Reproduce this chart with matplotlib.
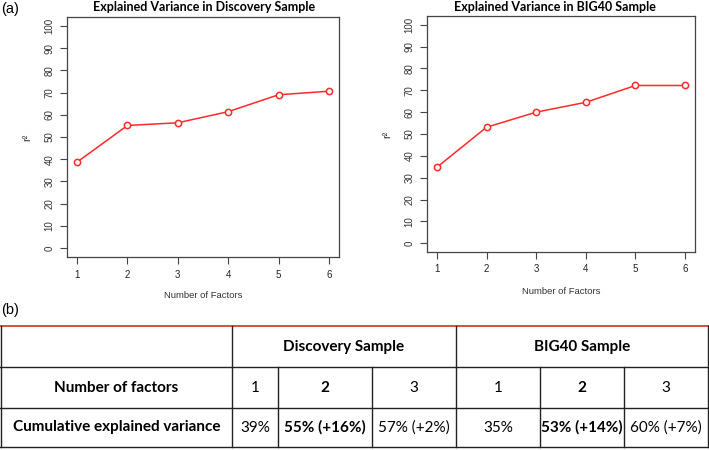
import matplotlib
matplotlib.use("Agg")
import matplotlib.pyplot as plt

# ---- data ----
factors = [1, 2, 3, 4, 5, 6]
discovery_r2 = [38.7, 55.2, 56.4, 61.4, 69.0, 70.6]
big40_r2 = [34.8, 53.1, 60.0, 64.5, 72.2, 72.2]
y_ticks = [0, 10, 20, 30, 40, 50, 60, 70, 80, 90, 100]

table_groups = ["Discovery Sample", "BIG40 Sample"]
table_n_factors = ["1", "2", "3", "1", "2", "3"]
table_cum_var = ["39%", "55% (+16%)", "57% (+2%)", "35%", "53% (+14%)", "60% (+7%)"]
table_bold_cols = [1, 4]

W, H = 709, 450
fig = plt.figure(figsize=(W / 100, H / 100), dpi=100)

RED = "#ff2a2a"
FRAME = "#444444"
AXFONT = "Liberation Sans"
TFONT = "Lato"


def make_panel(rect, y, title, title_x):
    l, t, r, b = rect
    ax = fig.add_axes([l / W, 1 - b / H, (r - l) / W, (b - t) / H])
    ax.plot(factors, y, color=RED, lw=1.1, zorder=2)
    ax.plot(factors, y, ls="none", marker="o", ms=4.5, mfc="white",
            mec=RED, mew=1.1, zorder=3)
    ax.set_xlim(0.8, 6.2)
    ax.set_ylim(-4, 104)
    ax.set_xticks(factors)
    ax.set_yticks(y_ticks)
    ax.set_xticklabels([str(f) for f in factors], fontfamily=AXFONT,
                       fontsize=7, color="#222222")
    ax.set_yticklabels([str(v) for v in y_ticks], fontfamily=AXFONT,
                       fontsize=7, color="#333333", rotation=90, va="center")
    ax.tick_params(direction="out", length=5, width=0.8, color=FRAME, pad=4)
    for s in ax.spines.values():
        s.set_color(FRAME)
        s.set_linewidth(0.9)
    ax.set_xlabel("Number of Factors", fontfamily=AXFONT, fontsize=6.8,
                  color="#333333", va="center")
    ax.xaxis.set_label_coords(0.5, -39 / (b - t))
    ax.set_ylabel("r²", fontfamily=AXFONT, fontsize=8, color="#333333",
                  rotation=90, va="center")
    ax.yaxis.set_label_coords(-40 / (r - l), 0.5)
    fig.text(title_x / W, 1 - 7 / H, title, ha="center", va="center",
             fontfamily=TFONT, fontweight="bold", fontsize=9)
    return ax


make_panel((67, 17, 339, 257), discovery_r2,
           "Explained Variance in Discovery Sample", 204)
make_panel((427, 16, 695, 252), big40_r2,
           "Explained Variance in BIG40 Sample", 555)

fig.text(1 / W, 1 - 9 / H, "(a)", ha="left", va="center",
         fontfamily=AXFONT, fontsize=10.5)
fig.text(1 / W, 1 - 310 / H, "(b)", ha="left", va="center",
         fontfamily=AXFONT, fontsize=10.5)

# ---- table ----
tab = fig.add_axes([0, 0, 1, 1])
tab.set_xlim(0, W)
tab.set_ylim(H, 0)
tab.axis("off")

cols = [1, 232, 278, 372, 456, 540, 624, 708]
rows = [326, 367, 408, 447]
lw = 1.0
tab.plot([0, W], [rows[0], rows[0]], color="#d9402b", lw=1.3)
for yy in rows[1:]:
    tab.plot([0, W], [yy, yy], color="#222222", lw=lw)
for xx in [cols[0], cols[1], cols[4], cols[7]]:
    tab.plot([xx, xx], [rows[0], rows[1]], color="#222222", lw=lw)
for xx in cols:
    tab.plot([xx, xx], [rows[1], rows[3]], color="#222222", lw=lw)

fs = 11
ym = [(rows[i] + rows[i + 1]) / 2 for i in range(3)]
tab.text((cols[1] + cols[4]) / 2, ym[0], table_groups[0], ha="center",
         va="center", fontfamily=TFONT, fontweight="bold", fontsize=fs)
tab.text((cols[4] + cols[7]) / 2, ym[0], table_groups[1], ha="center",
         va="center", fontfamily=TFONT, fontweight="bold", fontsize=fs)
tab.text((cols[0] + cols[1]) / 2, ym[1], "Number of factors", ha="center",
         va="center", fontfamily=TFONT, fontweight="bold", fontsize=fs)
tab.text((cols[0] + cols[1]) / 2, ym[2], "Cumulative explained variance",
         ha="center", va="center", fontfamily=TFONT, fontweight="bold",
         fontsize=fs)
for i in range(6):
    xc = (cols[i + 1] + cols[i + 2]) / 2
    wt = "bold" if i in table_bold_cols else "normal"
    tab.text(xc, ym[1], table_n_factors[i], ha="center", va="center",
             fontfamily=TFONT, fontweight=wt, fontsize=fs)
    tab.text(xc, ym[2], table_cum_var[i], ha="center", va="center",
             fontfamily=TFONT, fontweight=wt, fontsize=fs)

fig.savefig("out.png", dpi=100)
